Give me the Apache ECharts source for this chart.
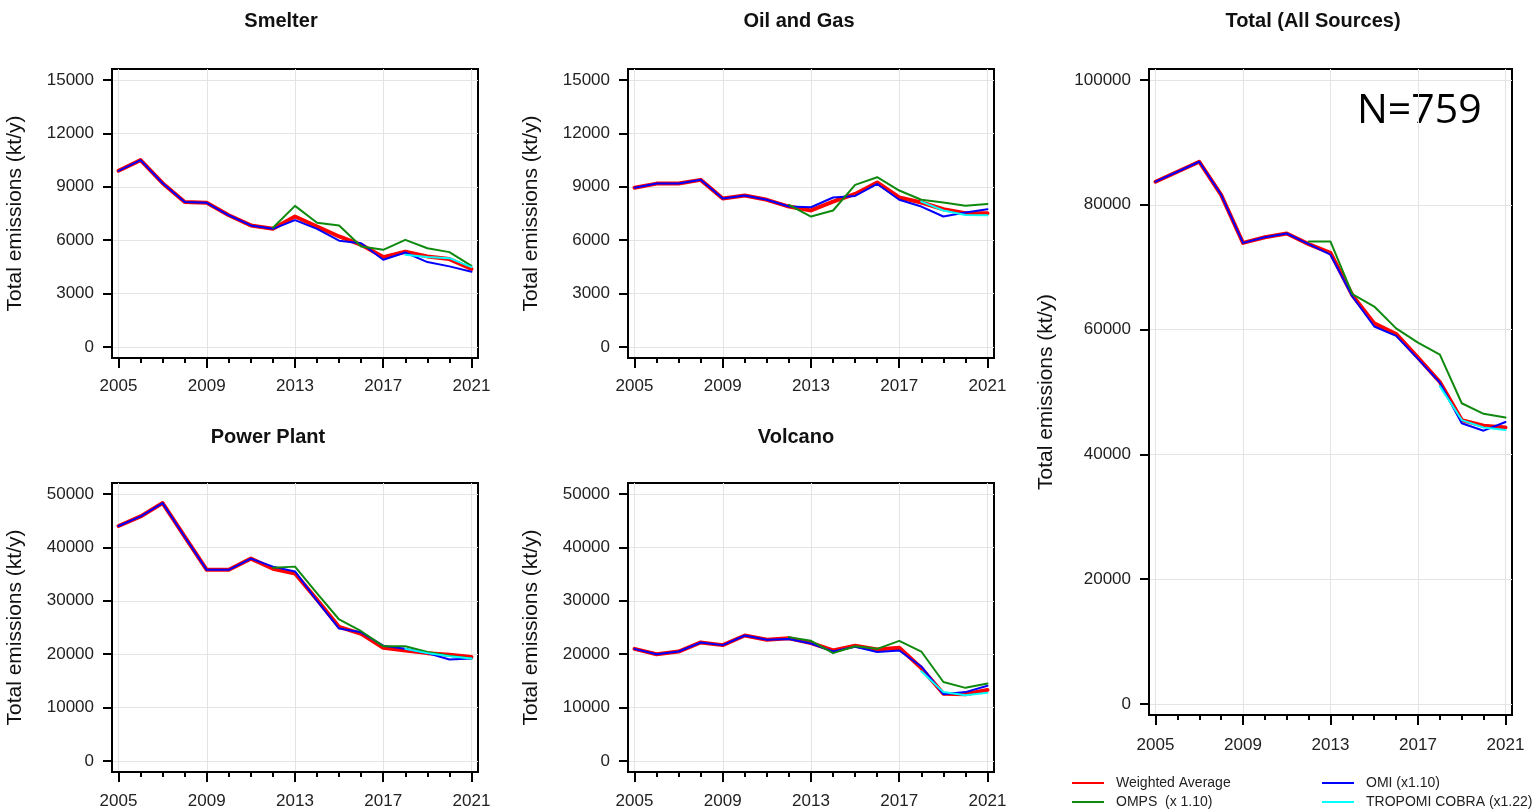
<!DOCTYPE html>
<html><head><meta charset="utf-8">
<script src="https://cdn.jsdelivr.net/npm/echarts@6/dist/echarts.min.js"></script>
<style>html,body{margin:0;padding:0;background:#fff}#c{width:1532px;height:811px}</style>
</head><body><div id="c"></div>
<script>
// ---------------- data ----------------
const years = [2005,2006,2007,2008,2009,2010,2011,2012,2013,2014,2015,2016,2017,2018,2019,2020,2021];
const xLabelYears = [2005,2009,2013,2017,2021];
const seriesNames = ['Weighted Average','OMPS  (x 1.10)','OMI (x1.10)','TROPOMI COBRA (x1.22)'];

const smelterTicks = [0,3000,6000,9000,12000,15000];
const sectorTicks  = [0,10000,20000,30000,40000,50000];
const totalTicks   = [0,20000,40000,60000,80000,100000];

const smelterWeighted = [9900,10500,9200,8150,8100,7400,6830,6640,7330,6770,6210,5740,5050,5350,5090,4940,4380];
const smelterOMPS     = [null,null,null,null,null,null,null,6700,7930,6980,6830,5650,5460,6020,5550,5330,4560];
const smelterOMI      = [9900,10500,9200,8150,8100,7400,6830,6640,7130,6640,5970,5830,4900,5310,4770,4530,4230];
const smelterTROPOMI  = [null,null,null,null,null,null,null,null,null,null,null,null,null,5180,5050,4990,4490];

const oilWeighted = [8950,9180,9180,9390,8340,8510,8270,7890,7670,8170,8600,9240,8400,8120,7740,7520,7520];
const oilOMPS     = [null,null,null,null,null,null,null,7990,7330,7670,9110,9540,8790,8270,8120,7930,8040];
const oilOMI      = [8950,9180,9180,9390,8340,8510,8270,7890,7850,8400,8490,9160,8270,7890,7330,7560,7740];
const oilTROPOMI  = [null,null,null,null,null,null,null,null,null,null,null,null,null,8170,7670,7420,7400];

const powerWeighted = [44000,45800,48300,42000,35800,35800,37900,36000,35100,30200,25100,23800,21200,20700,20200,19900,19500];
const powerOMPS     = [null,null,null,null,null,null,null,36200,36400,31400,26500,24300,21500,21500,20400,19700,19200];
const powerOMI      = [44000,45800,48300,42000,35800,35800,37900,36400,35500,30000,24800,24100,21600,21000,20200,19000,19200];
const powerTROPOMI  = [null,null,null,null,null,null,null,null,null,null,null,null,null,21000,20200,19600,19200];

const volcanoWeighted = [21000,20000,20500,22200,21700,23500,22700,23000,22100,20700,21600,20900,21200,17400,12600,12500,13300];
const volcanoOMPS     = [null,null,null,null,null,null,null,23200,22500,20200,21500,21000,22500,20500,14800,13700,14500];
const volcanoOMI      = [21000,20000,20500,22200,21700,23500,22700,22850,22000,20500,21400,20400,20700,17700,12500,12900,14100];
const volcanoTROPOMI  = [null,null,null,null,null,null,null,null,null,null,null,null,null,16800,12900,12300,12800];

const totalWeighted = [83700,85300,86900,81600,73900,74800,75400,73700,72300,65500,61000,59300,55500,51600,45500,44600,44300];
const totalOMPS     = [null,null,null,null,null,null,null,74100,74100,65700,63700,60200,57900,56000,48200,46500,45900];
const totalOMI      = [83700,85300,86900,81600,73900,74800,75400,73700,72000,65300,60500,59000,55300,51500,45000,43800,45200];
const totalTROPOMI  = [null,null,null,null,null,null,null,null,null,null,null,null,null,50900,45500,44300,43900];

// ---------------- layout ----------------
const FONT = '"Liberation Sans", Arial, Helvetica, sans-serif';
const panels = [
  {title:'Smelter', series:[smelterWeighted,smelterOMPS,smelterOMI,smelterTROPOMI], ticks:smelterTicks,
   rect:{left:112,top:69,width:366,height:289}, titleX:281, titleY:21, nameGap:86, labelMargin:20},
  {title:'Oil and Gas', series:[oilWeighted,oilOMPS,oilOMI,oilTROPOMI], ticks:smelterTicks,
   rect:{left:628,top:69,width:366,height:289}, titleX:799, titleY:21, nameGap:86, labelMargin:20},
  {title:'Power Plant', series:[powerWeighted,powerOMPS,powerOMI,powerTROPOMI], ticks:sectorTicks,
   rect:{left:112,top:483,width:366,height:289}, titleX:268, titleY:437, nameGap:86, labelMargin:21},
  {title:'Volcano', series:[volcanoWeighted,volcanoOMPS,volcanoOMI,volcanoTROPOMI], ticks:sectorTicks,
   rect:{left:628,top:483,width:366,height:289}, titleX:796, titleY:437, nameGap:86, labelMargin:21},
  {title:'Total (All Sources)', series:[totalWeighted,totalOMPS,totalOMI,totalTROPOMI], ticks:totalTicks,
   rect:{left:1149,top:69,width:363,height:646}, titleX:1313, titleY:21, nameGap:92, labelMargin:22}
];
const lineStyles = [
  {color:'#ff0000', width:4, z:2},
  {color:'#0f8a0f', width:2, z:4},
  {color:'#0000ff', width:2, z:3},
  {color:'#00ffff', width:2, z:5}
];
const Y_PAD = 11, X_PAD = 6.5;

const grid = [], xAxis = [], yAxis = [], series = [], graphic = [];
panels.forEach((p, i) => {
  grid.push(Object.assign({show:true, borderColor:'#000', borderWidth:2, backgroundColor:'#fff',
    outerBoundsMode:'none', containLabel:false}, p.rect));
  const yTop = p.ticks[p.ticks.length-1];
  const yScale = yTop / (p.rect.height - 2*Y_PAD);
  const xScale = (years[years.length-1]-years[0]) / (p.rect.width - 2*X_PAD);
  const xmin = years[0] - X_PAD*xScale, xmax = years[years.length-1] + X_PAD*xScale;
  xAxis.push({type:'value', gridIndex:i, min:xmin, max:xmax, position:'bottom',
    axisLine:{show:true, onZero:false, lineStyle:{color:'#000', width:2}},
    axisTick:{show:true, inside:false, length:5, customValues:years, lineStyle:{color:'#000', width:2}},
    axisLabel:{show:true, customValues:xLabelYears, margin:p.labelMargin, fontSize:17, color:'#222', fontFamily:FONT,
      formatter:v=>String(Math.round(v))},
    splitLine:{show:false}});
  xAxis.push({type:'value', gridIndex:i, min:xmin, max:xmax, position:'bottom',
    axisLine:{show:false, onZero:false},
    axisTick:{show:true, length:10, customValues:xLabelYears, lineStyle:{color:'#000', width:2}},
    axisLabel:{show:false},
    splitLine:{show:true, lineStyle:{color:'#e4e4e4', width:1}}});
  yAxis.push({type:'value', gridIndex:i, min:-Y_PAD*yScale, max:yTop + Y_PAD*yScale,
    name:'Total emissions (kt/y)', nameLocation:'middle', nameGap:p.nameGap,
    nameTextStyle:{fontSize:21, color:'#111', fontFamily:FONT},
    axisLine:{show:true, onZero:false, lineStyle:{color:'#000', width:2}},
    axisTick:{show:true, length:9, customValues:p.ticks, lineStyle:{color:'#000', width:2}},
    axisLabel:{show:true, customValues:p.ticks, margin:18, fontSize:17, color:'#222', fontFamily:FONT,
      formatter:v=>String(Math.round(v))},
    splitLine:{show:true, lineStyle:{color:'#e4e4e4', width:1}}});
  p.series.forEach((arr, k) => {
    const st = lineStyles[k];
    series.push({type:'line', name:seriesNames[k], xAxisIndex:2*i, yAxisIndex:i,
      data: years.map((y, j) => [y, arr[j]]).filter(d => d[1] !== null),
      symbol:'none', showSymbol:false, silent:true, z:st.z,
      itemStyle:{color:st.color},
      lineStyle:{color:st.color, width:st.width, join:'round', cap:'round'}});
  });
  graphic.push({type:'text', x:p.titleX, y:p.titleY, silent:true,
    style:{text:p.title, font:'bold 20px ' + FONT, align:'center', verticalAlign:'middle',
      textAlign:'center', textVerticalAlign:'middle', fill:'#111'}});
});
graphic.push({type:'text', x:1357, y:111, silent:true,
  style:{text:'N=759', font:'41px "Open Sans", sans-serif', align:'left', verticalAlign:'middle',
    textAlign:'left', textVerticalAlign:'middle', fill:'#000'}});

const legendPos = [[1072,776],[1072,795],[1322,776],[1322,795]];
const legend = seriesNames.map((nm, k) => ({
  orient:'horizontal', left:legendPos[k][0], top:legendPos[k][1], padding:0, icon:'rect',
  itemWidth:32, itemHeight:2, selectedMode:false, data:[nm],
  textStyle:{fontSize:14, color:'#222', fontFamily:FONT, padding:[0,0,0,7]}
}));

const chart = echarts.init(document.getElementById('c'), null, {renderer:'canvas'});
chart.setOption({
  animation:false,
  backgroundColor:'#fff',
  grid, xAxis, yAxis, series, graphic, legend
});
</script></body></html>
